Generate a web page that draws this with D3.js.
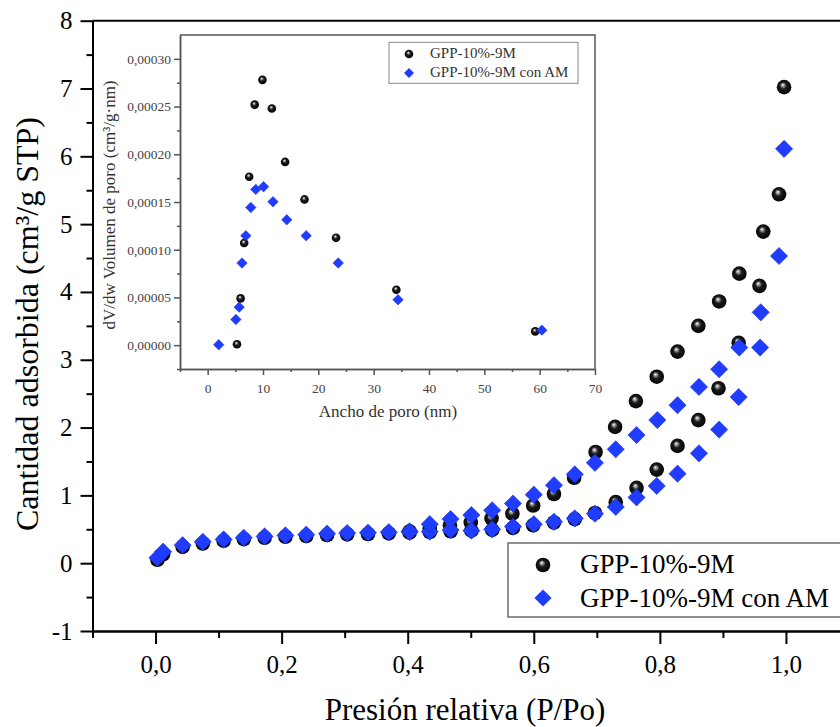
<!DOCTYPE html>
<html><head><meta charset="utf-8">
<script src="https://cdn.jsdelivr.net/npm/d3@7"></script>
<style>body{margin:0;background:#fff} svg{display:block}</style>
</head><body><svg id="c" width="840" height="727"></svg>
<script>
// ---------- DATA ----------
const seriesNames = ["GPP-10%-9M", "GPP-10%-9M con AM"];
const xTicksMain = [0, 0.2, 0.4, 0.6, 0.8, 1.0];
const xMinorMain = [-0.1, 0.1, 0.3, 0.5, 0.7, 0.9, 1.1];
const yTicksMain = [-1, 0, 1, 2, 3, 4, 5, 6, 7, 8];
const yMinorMain = [-0.5, 0.5, 1.5, 2.5, 3.5, 4.5, 5.5, 6.5, 7.5];

// Isotherm: relative pressure P/Po, amount adsorbed (cm3/g STP)
const adsBlack = [[0.003,0.05],[0.012,0.13],[0.043,0.24],[0.075,0.29],[0.108,0.33],[0.14,0.355],[0.173,0.375],[0.206,0.39],[0.239,0.40],[0.272,0.415],[0.304,0.425],[0.337,0.43],[0.37,0.44],[0.403,0.45],[0.435,0.46],[0.468,0.47],[0.501,0.48],[0.534,0.49],[0.567,0.52],[0.599,0.56],[0.632,0.60],[0.665,0.65],[0.697,0.74],[0.73,0.90],[0.763,1.11],[0.795,1.38],[0.828,1.73],[0.861,2.11],[0.893,2.58],[0.925,3.25],[0.958,4.09],[0.997,7.02]];
const desBlack = [[0.989,5.44],[0.964,4.89],[0.926,4.27],[0.894,3.86],[0.861,3.50],[0.828,3.12],[0.795,2.75],[0.762,2.39],[0.729,2.01],[0.698,1.64],[0.664,1.26],[0.632,1.02],[0.599,0.85],[0.566,0.73],[0.533,0.66],[0.5,0.60],[0.467,0.56],[0.435,0.51],[0.403,0.47]];
const adsBlue = [[0.003,0.08],[0.012,0.17],[0.043,0.265],[0.075,0.315],[0.108,0.35],[0.14,0.375],[0.173,0.395],[0.206,0.41],[0.239,0.42],[0.272,0.435],[0.304,0.445],[0.337,0.45],[0.37,0.457],[0.403,0.46],[0.435,0.465],[0.468,0.49],[0.501,0.48],[0.534,0.50],[0.567,0.54],[0.6,0.575],[0.632,0.61],[0.665,0.66],[0.697,0.73],[0.73,0.83],[0.763,0.97],[0.795,1.14],[0.828,1.32],[0.862,1.62],[0.894,1.97],[0.925,2.45],[0.959,3.18],[0.997,6.11]];
const desBlue = [[0.989,4.53],[0.96,3.70],[0.926,3.18],[0.894,2.86],[0.862,2.60],[0.828,2.33],[0.796,2.11],[0.763,1.89],[0.73,1.68],[0.697,1.48],[0.665,1.31],[0.632,1.15],[0.6,1.01],[0.567,0.88],[0.534,0.78],[0.501,0.71],[0.468,0.65],[0.435,0.575],[0.403,0.47]];

// Inset: pore width (nm), dV/dw (cm3/g·nm)
const poreBlack = [[5.3,0.000001],[5.95,0.000049],[6.6,0.000107],[7.5,0.0001765],[8.5,0.000252],[9.9,0.000278],[11.6,0.000248],[14.0,0.000192],[17.5,0.0001527],[23.2,0.0001126],[34.1,0.0000581],[59.2,0.0000144]];
const poreBlue = [[2.0,0.0000004],[5.1,0.0000269],[5.7,0.0000398],[6.2,0.000086],[6.9,0.0001147],[7.8,0.0001443],[8.7,0.0001632],[10.1,0.000166],[11.8,0.0001503],[14.3,0.0001314],[17.8,0.0001147],[23.6,0.000086],[34.4,0.0000476],[60.4,0.0000157]];
const xTicksInset = [0, 10, 20, 30, 40, 50, 60, 70];
const xMinorInset = [-5, 5, 15, 25, 35, 45, 55, 65];
const yTicksInset = [0, 0.00005, 0.0001, 0.00015, 0.0002, 0.00025, 0.0003];
const yMinorInset = [-0.000025, 0.000025, 0.000075, 0.000125, 0.000175, 0.000225, 0.000275];

// ---------- DRAW ----------
const svg = d3.select("#c");
const SERIF = "'Liberation Serif', 'Times New Roman', serif";
const BLUE = "#1f3cff";

const defs = svg.append("defs");
const g1 = defs.append("radialGradient").attr("id", "sphere")
  .attr("cx", 0.5).attr("cy", 0.5).attr("r", 0.55).attr("fx", 0.4).attr("fy", 0.33);
g1.append("stop").attr("offset", 0).attr("stop-color", "#ffffff");
g1.append("stop").attr("offset", 0.14).attr("stop-color", "#b0b0b0");
g1.append("stop").attr("offset", 0.42).attr("stop-color", "#1c1c1c");
g1.append("stop").attr("offset", 1).attr("stop-color", "#000000");

const diamond = h => `M0,${-h}L${h},0L0,${h}L${-h},0Z`;

// main scales
const x = d3.scaleLinear().domain([-0.1, 1.1]).range([92.5, 849]);
const y = d3.scaleLinear().domain([-1, 8]).range([631, 20.7]);

function styleAxis(g, w, col) {
  g.select(".domain").attr("stroke", col).attr("stroke-width", w);
  g.selectAll(".tick line").attr("stroke", col).attr("stroke-width", w);
}

// main axes
const yMin = svg.append("g").attr("transform", `translate(${x(-0.1)},0)`)
  .call(d3.axisLeft(y).tickValues(yMinorMain).tickSize(6).tickSizeOuter(0).tickFormat(""));
styleAxis(yMin, 2, "#000");
const yAx = svg.append("g").attr("transform", `translate(${x(-0.1)},0)`)
  .call(d3.axisLeft(y).tickValues(yTicksMain).tickSize(12).tickSizeOuter(0).tickPadding(8).tickFormat(d => String(d)));
styleAxis(yAx, 2, "#000");
yAx.selectAll("text").attr("font-family", SERIF).attr("font-size", 25).attr("fill", "#000");

const xMin = svg.append("g").attr("transform", `translate(0,${y(-1)})`)
  .call(d3.axisBottom(x).tickValues(xMinorMain).tickSize(7).tickSizeOuter(0).tickFormat(""));
styleAxis(xMin, 2, "#000");
const xAx = svg.append("g").attr("transform", `translate(0,${y(-1)})`)
  .call(d3.axisBottom(x).tickValues(xTicksMain).tickSize(13).tickSizeOuter(0).tickFormat(d => d3.format(".1f")(d).replace(".", ",")));
styleAxis(xAx, 2, "#000");
xAx.selectAll("text").attr("font-family", SERIF).attr("font-size", 25).attr("fill", "#000")
  .attr("dy", null).attr("y", 42);

// top / right axis lines
svg.append("line").attr("x1", x(-0.1)).attr("x2", x(1.1)).attr("y1", y(8)).attr("y2", y(8))
  .attr("stroke", "#000").attr("stroke-width", 2);
svg.append("line").attr("x1", x(1.1)).attr("x2", x(1.1)).attr("y1", y(8)).attr("y2", y(-1))
  .attr("stroke", "#000").attr("stroke-width", 2);

// axis titles
svg.append("text").attr("x", 465).attr("y", 720).attr("text-anchor", "middle")
  .attr("font-family", SERIF).attr("font-size", 31).attr("fill", "#000").text("Presión relativa (P/Po)");
svg.append("text").attr("transform", `translate(38,${324}) rotate(-90)`).attr("text-anchor", "middle")
  .attr("font-family", SERIF).attr("font-size", 32).attr("fill", "#000").text("Cantidad adsorbida (cm³/g STP)");

// data
const gData = svg.append("g");
function spheres(g, data, sx, sy, r) {
  g.selectAll(null).data(data).enter().append("circle")
    .attr("cx", d => sx(d[0])).attr("cy", d => sy(d[1])).attr("r", r)
    .attr("fill", "url(#sphere)");
}
function diamonds(g, data, sx, sy, h) {
  g.selectAll(null).data(data).enter().append("path")
    .attr("transform", d => `translate(${sx(d[0])},${sy(d[1])})`)
    .attr("d", diamond(h)).attr("fill", BLUE).attr("stroke", "#1a33e0").attr("stroke-width", 0.6);
}
spheres(gData, adsBlack, x, y, 7.3);
spheres(gData, desBlack, x, y, 7.3);
diamonds(gData, adsBlue, x, y, 8.6);
diamonds(gData, desBlue, x, y, 8.6);

// main legend
const lg = svg.append("g");
lg.append("rect").attr("x", 508).attr("y", 543).attr("width", 345).attr("height", 74)
  .attr("fill", "#fff").attr("stroke", "#555").attr("stroke-width", 1.3);
lg.append("circle").attr("cx", 543).attr("cy", 565).attr("r", 7.3).attr("fill", "url(#sphere)");
lg.append("path").attr("transform", "translate(543,598)").attr("d", diamond(8.6)).attr("fill", BLUE);
lg.append("text").attr("x", 580).attr("y", 573).attr("font-family", SERIF).attr("font-size", 27).attr("fill", "#000").text(seriesNames[0]);
lg.append("text").attr("x", 580).attr("y", 607).attr("font-family", SERIF).attr("font-size", 27).attr("fill", "#000").text(seriesNames[1]);

// ---------- INSET ----------
const xi = d3.scaleLinear().domain([-5, 70]).range([180, 595]);
const yi = d3.scaleLinear().domain([-0.000025, 0.000325]).range([369, 35]);
const IC = "#555";
const gi = svg.append("g");
gi.append("rect").attr("x", 180).attr("y", 35).attr("width", 415).attr("height", 334).attr("fill", "#fff");

const yiMin = gi.append("g").attr("transform", `translate(180,0)`)
  .call(d3.axisLeft(yi).tickValues(yMinorInset).tickSize(3).tickSizeOuter(0).tickFormat(""));
styleAxis(yiMin, 1.5, IC);
const yiAx = gi.append("g").attr("transform", `translate(180,0)`)
  .call(d3.axisLeft(yi).tickValues(yTicksInset).tickSize(6).tickSizeOuter(0).tickPadding(3)
    .tickFormat(d => d3.format(".5f")(d).replace(".", ",")));
styleAxis(yiAx, 1.5, IC);
yiAx.selectAll("text").attr("font-family", SERIF).attr("font-size", 13.5).attr("fill", "#444");

const xiMin = gi.append("g").attr("transform", `translate(0,369)`)
  .call(d3.axisBottom(xi).tickValues(xMinorInset).tickSize(3).tickSizeOuter(0).tickFormat(""));
styleAxis(xiMin, 1.5, IC);
const xiAx = gi.append("g").attr("transform", `translate(0,369)`)
  .call(d3.axisBottom(xi).tickValues(xTicksInset).tickSize(6).tickSizeOuter(0).tickPadding(8).tickFormat(d => String(d)));
styleAxis(xiAx, 1.5, IC);
xiAx.selectAll("text").attr("font-family", SERIF).attr("font-size", 13.5).attr("fill", "#444");

gi.append("path").attr("d", `M180,35H595V369`).attr("fill", "none").attr("stroke", IC).attr("stroke-width", 1.5);

gi.append("text").attr("x", 388).attr("y", 417).attr("text-anchor", "middle")
  .attr("font-family", SERIF).attr("font-size", 17).attr("fill", "#333").text("Ancho de poro (nm)");
gi.append("text").attr("transform", `translate(115,205) rotate(-90)`).attr("text-anchor", "middle")
  .attr("font-family", SERIF).attr("font-size", 17).attr("fill", "#333").text("dV/dw Volumen de poro (cm³/g·nm)");

spheres(gi, poreBlack, xi, yi, 4.3);
diamonds(gi, poreBlue, xi, yi, 5.2);

// inset legend
gi.append("rect").attr("x", 389).attr("y", 42.3).attr("width", 189).attr("height", 41)
  .attr("fill", "#fff").attr("stroke", "#888").attr("stroke-width", 1);
gi.append("circle").attr("cx", 409).attr("cy", 54).attr("r", 4.3).attr("fill", "url(#sphere)");
gi.append("path").attr("transform", "translate(409,73)").attr("d", diamond(5)).attr("fill", BLUE);
gi.append("text").attr("x", 430).attr("y", 58).attr("font-family", SERIF).attr("font-size", 15).attr("fill", "#333").text(seriesNames[0]);
gi.append("text").attr("x", 430).attr("y", 77).attr("font-family", SERIF).attr("font-size", 15).attr("fill", "#333").text(seriesNames[1]);
</script></body></html>
